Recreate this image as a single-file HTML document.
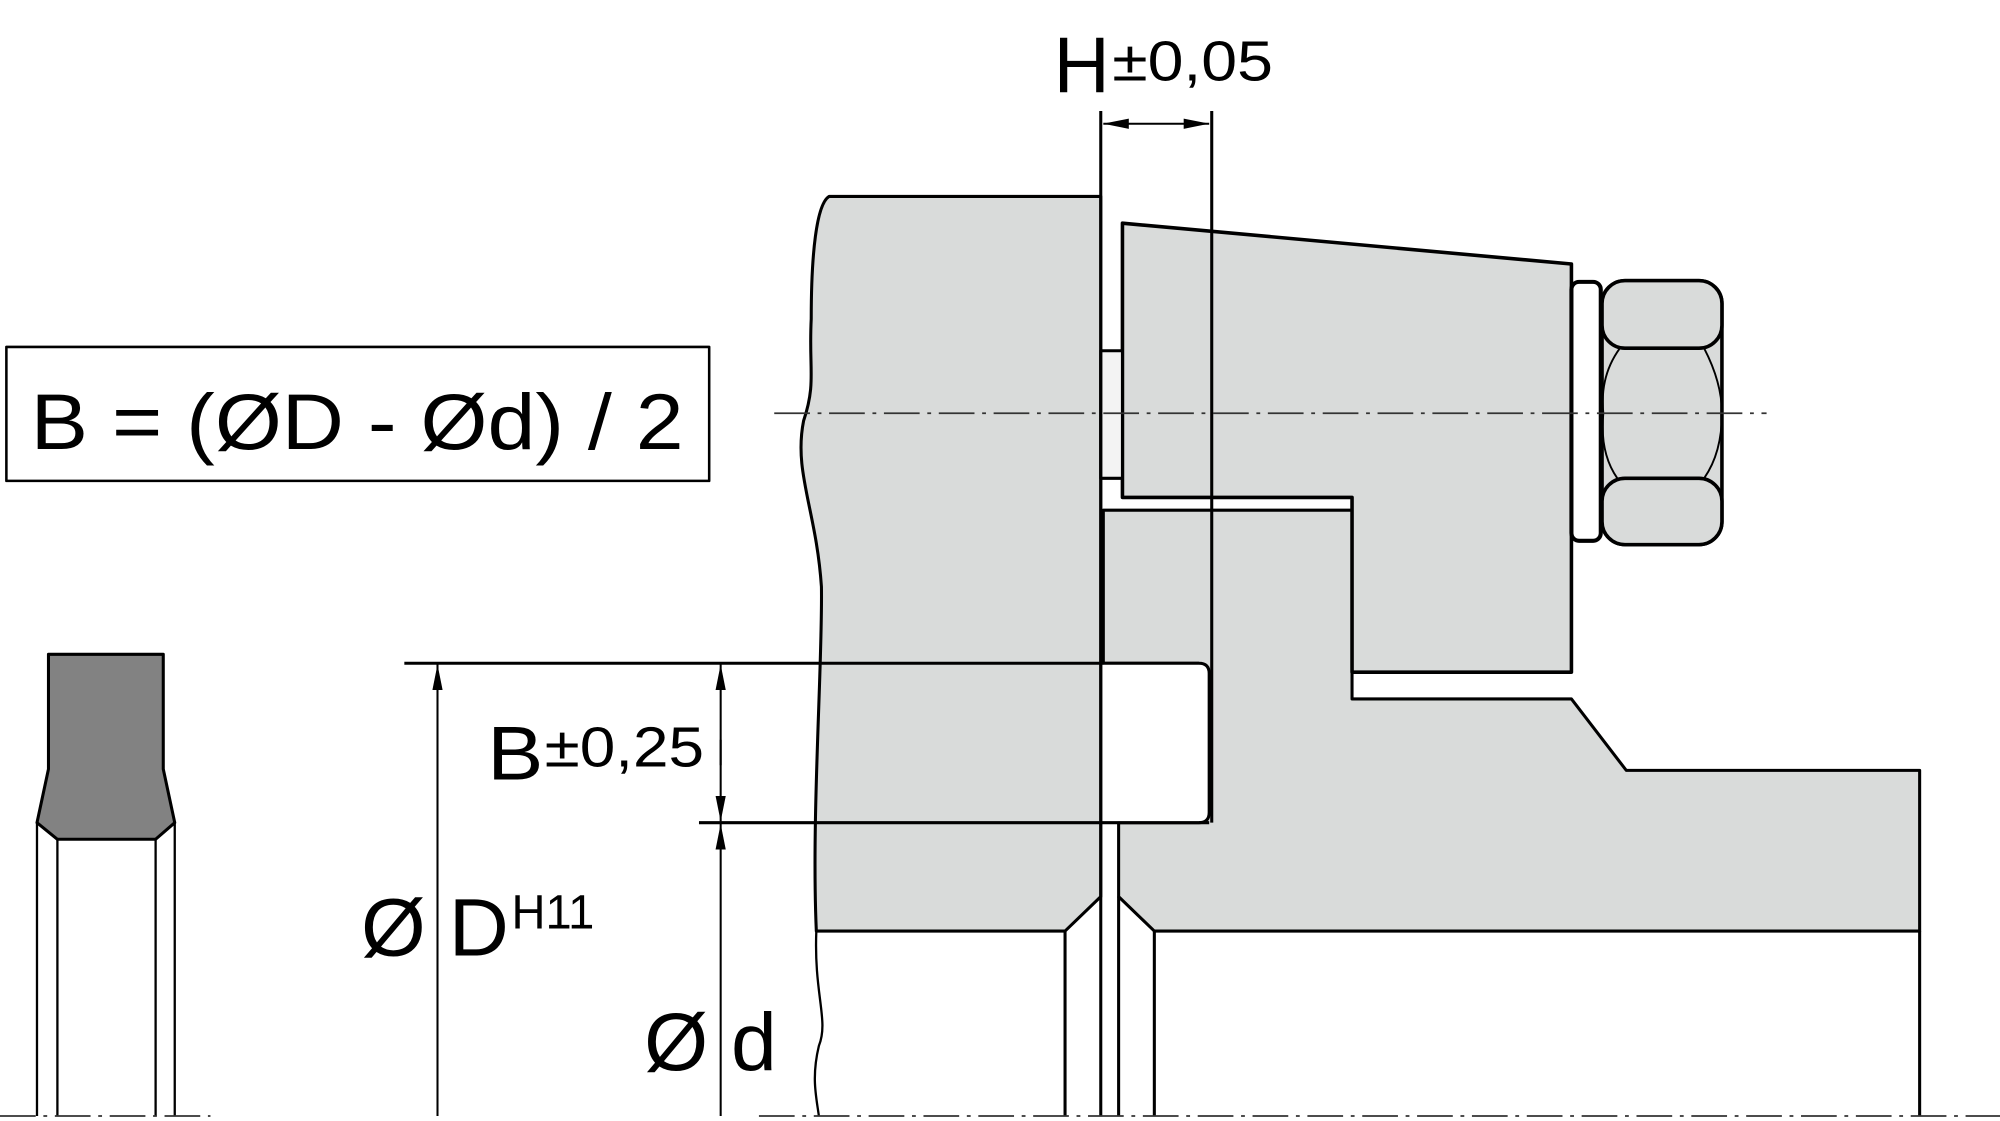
<!DOCTYPE html>
<html><head><meta charset="utf-8"><style>
html,body{margin:0;padding:0;background:#fff;}
svg{display:block;}
text{font-family:"Liberation Sans",Arial,sans-serif;fill:#000;}
</style></head><body>
<svg width="2000" height="1121" viewBox="0 0 1568 878.9" preserveAspectRatio="none" xmlns="http://www.w3.org/2000/svg">
<defs>
<marker id="a" viewBox="0 0 20 8" refX="20" refY="4" markerWidth="20" markerHeight="8" markerUnits="userSpaceOnUse" orient="auto-start-reverse"><path d="M0,0 L20,4 L0,8 Z" fill="#000"/></marker>
</defs>
<g stroke="#000" stroke-width="2.4" stroke-linejoin="round">
<path d="M650,154 L863,154 L863,703 L835,730 L640,730 C636,640 645,520 644,460 C640,400 622,370 630,330 C640,300 634,290 636,250 C636,200 640,160 650,154 Z" fill="#d9dbda"/>
<path d="M640,730 C638,780 650,800 642,820 C636,845 640,860 642,875" fill="none" stroke-width="1.8"/>
<path d="M865,400 L1060,400 L1060,548 L1232,548 L1275,604 L1505,604 L1505,730 L905,730 L877,703 L877,645 L940,645 Q948,645 948,637 L948,528 Q948,520 940,520 L865,520 Z" fill="#d9dbda"/>
<rect x="865" y="521" width="75" height="123" fill="#fff" stroke="none"/>
<path d="M880,175 L1232,207 L1232,527 L1060,527 L1060,390 L880,390 Z" fill="#d9dbda" stroke-width="2.8"/>
<rect x="863" y="275" width="17" height="100" fill="#f3f3f3"/>
<rect x="1232" y="221" width="23" height="203" rx="6" fill="#fff" stroke-width="3.2"/>
<rect x="1256" y="220" width="94" height="207" rx="18" fill="#d9dbda" stroke-width="2.8"/>
<path d="M1270,273 Q1254,295 1257,324 Q1254,355 1268,375 M1336,273 Q1350,300 1350,324 Q1350,355 1336,375" fill="none" stroke-width="1.5"/>
<rect x="1256" y="220" width="94" height="53" rx="18" fill="#d9dbda" stroke-width="2.8"/>
<rect x="1256" y="375" width="94" height="52" rx="18" fill="#d9dbda" stroke-width="2.8"/>
<path d="M863,87 L863,875 M950,87 L950,645 M835,730 L835,875 M877,703 L877,875 M905,730 L905,875 M1505,730 L1505,875" fill="none"/>
<path d="M317,520 L940,520 M548,645 L948,645" fill="none"/>
<path d="M865,97 L948,97" fill="none" stroke-width="1.6" marker-start="url(#a)" marker-end="url(#a)"/>
<path d="M343,875 L343,521" fill="none" stroke-width="1.6" marker-end="url(#a)"/>
<path d="M565,600 L565,521" fill="none" stroke-width="1.6" marker-end="url(#a)"/>
<path d="M565,580 L565,644" fill="none" stroke-width="1.6" marker-end="url(#a)"/>
<path d="M565,875 L565,646" fill="none" stroke-width="1.6" marker-end="url(#a)"/>
<path d="M38,513 L128,513 L128,603 L137,645 L122,658 L45,658 L29,645 L38,603 Z" fill="#828282"/>
<path d="M29,645 L29,875 M45,658 L45,875 M122,658 L122,875 M137,645 L137,875" fill="none" stroke-width="1.8"/>
<rect x="5" y="272" width="551" height="105" fill="#fff" stroke-width="2"/>
</g>
<g stroke="#333" stroke-width="1.4" stroke-dasharray="28,6,3,6" fill="none">
<path d="M607,324 L1385,324"/>
<path d="M0,875 L165,875 M595,875 L1568,875"/>
</g>
<text x="24" y="352" font-size="62" textLength="512" lengthAdjust="spacingAndGlyphs">B = (ØD - Ød) / 2</text>
<text x="826" y="72" font-size="62" textLength="44" lengthAdjust="spacingAndGlyphs">H</text>
<text x="872" y="63" font-size="44" textLength="126" lengthAdjust="spacingAndGlyphs">±0,05</text>
<text x="382" y="611" font-size="60" textLength="44" lengthAdjust="spacingAndGlyphs">B</text>
<text x="427" y="601" font-size="44" textLength="125" lengthAdjust="spacingAndGlyphs">±0,25</text>
<text x="283" y="749" font-size="64" textLength="116" lengthAdjust="spacingAndGlyphs">Ø D</text>
<text x="401" y="728" font-size="38" textLength="65" lengthAdjust="spacingAndGlyphs">H11</text>
<text x="505" y="839" font-size="64" textLength="104" lengthAdjust="spacingAndGlyphs">Ø d</text>
</svg>
</body></html>
